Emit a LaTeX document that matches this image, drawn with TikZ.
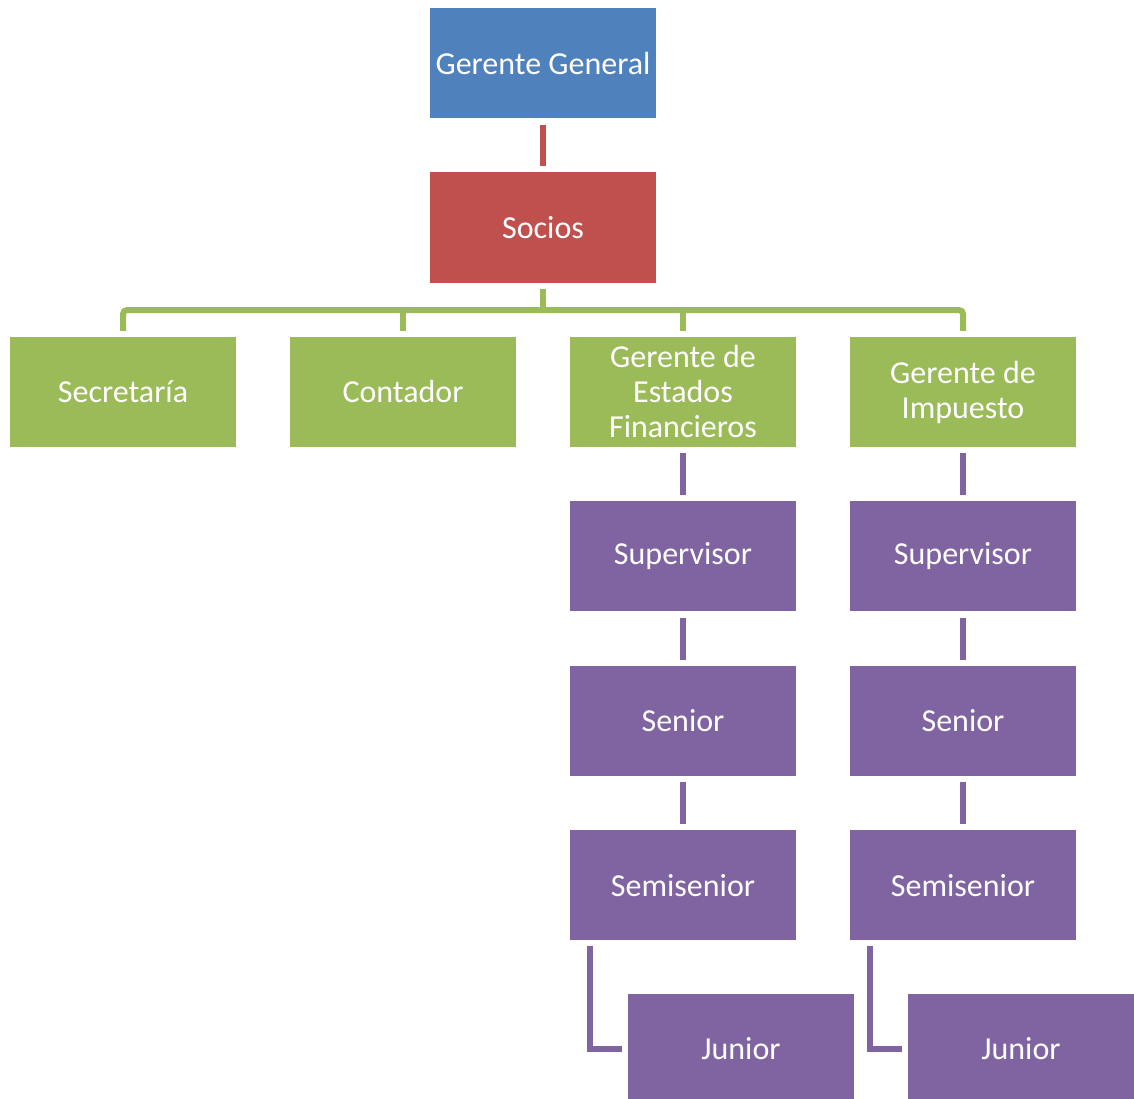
\documentclass[tikz,border=0pt]{standalone}
\usepackage{fontspec}
\setmainfont{Carlito}
\usetikzlibrary{positioning, calc}

\definecolor{gblue}{HTML}{4F81BD}
\definecolor{gred}{HTML}{C0504D}
\definecolor{ggreen}{HTML}{9BBB59}
\definecolor{gpurple}{HTML}{8064A2}

\tikzset{
  post/.style={rectangle, fill=#1, text=white, minimum width=226pt, minimum height=110pt,
    inner sep=2pt, align=center, font=\fontsize{32}{35}\selectfont},
  link/.style={draw=#1, line width=6pt},
}

\begin{document}
\begin{tikzpicture}[x=1pt, y=-1pt]
  \clip (0,0) rectangle (1134,1099);
  \useasboundingbox (0,0) rectangle (1134,1099);

  % top of the chart
  \node[post=gblue] (gg) at (543,63.5) {Gerente General};
  \node[post=gred] (soc) at (543,227.5) {Socios};

  % second level
  \node[post=ggreen] (sec) at (123,392) {Secretaría};
  \node[post=ggreen] (cont) at (403,392) {Contador};
  \node[post=ggreen] (gef) at (683,392) {Gerente de\\Estados\\Financieros};
  \node[post=ggreen] (gimp) at (963,392) {Gerente de\\Impuesto};

  % staff under each manager
  \node[post=gpurple, below=54pt of gef] (sup1) {Supervisor};
  \node[post=gpurple, below=54pt of sup1] (sen1) {Senior};
  \node[post=gpurple, below=54pt of sen1] (ss1) {Semisenior};
  \node[post=gpurple] (jr1) at (741,1049) {Junior};
  \node[post=gpurple, below=54pt of gimp] (sup2) {Supervisor};
  \node[post=gpurple, below=54pt of sup2] (sen2) {Senior};
  \node[post=gpurple, below=54pt of sen2] (ss2) {Semisenior};
  \node[post=gpurple] (jr2) at (1021,1049) {Junior};

  \coordinate (bar) at (543,310);

  \draw[link=gred] ([yshift=-6pt]gg.south) -- ([yshift=6pt]soc.north);

  \draw[link=ggreen] ([yshift=-6pt]soc.south) -- (bar);
  \draw[link=ggreen, rounded corners=4pt] ([yshift=6pt]sec.north) |- (bar) -| ([yshift=6pt]gimp.north);
  \draw[link=ggreen] ([yshift=6pt]cont.north) -- (cont.north |- bar);
  \draw[link=ggreen] ([yshift=6pt]gef.north) -- (gef.north |- bar);

  \draw[link=gpurple] ([yshift=-6pt]gef.south) -- ([yshift=6pt]sup1.north);
  \draw[link=gpurple] ([yshift=-6pt]sup1.south) -- ([yshift=6pt]sen1.north);
  \draw[link=gpurple] ([yshift=-6pt]sen1.south) -- ([yshift=6pt]ss1.north);
  \draw[link=gpurple] ([xshift=20pt, yshift=-6pt]ss1.south west) |- ([xshift=-6pt]jr1.west);

  \draw[link=gpurple] ([yshift=-6pt]gimp.south) -- ([yshift=6pt]sup2.north);
  \draw[link=gpurple] ([yshift=-6pt]sup2.south) -- ([yshift=6pt]sen2.north);
  \draw[link=gpurple] ([yshift=-6pt]sen2.south) -- ([yshift=6pt]ss2.north);
  \draw[link=gpurple] ([xshift=20pt, yshift=-6pt]ss2.south west) |- ([xshift=-6pt]jr2.west);
\end{tikzpicture}
\end{document}
